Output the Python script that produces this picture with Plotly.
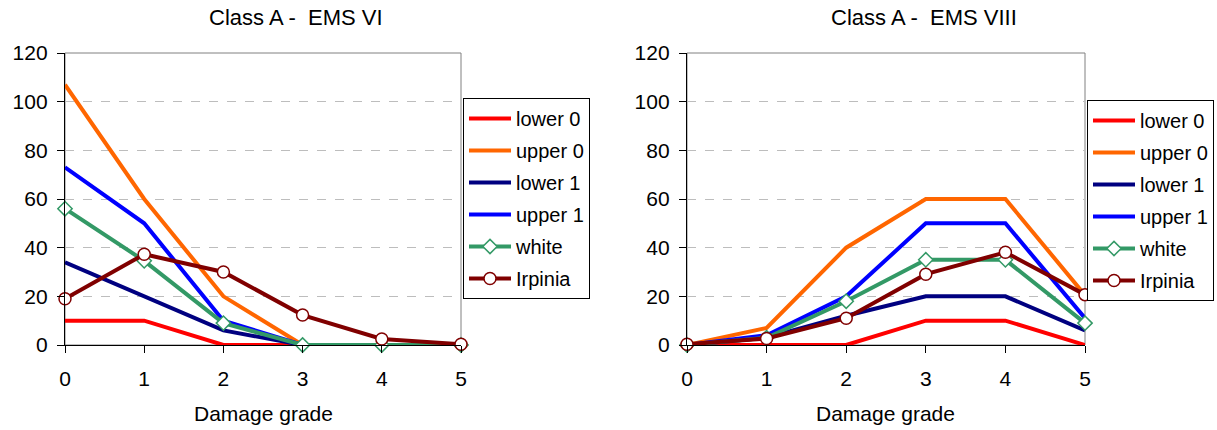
import plotly.graph_objects as go

# Damage grades on the x axis
grades = [0, 1, 2, 3, 4, 5]

# Class A - EMS VI
vi_lower0 = [10, 10, 0, 0, 0, 0]
vi_upper0 = [107, 60, 20, 0, 0, 0]
vi_lower1 = [34, 20, 6, 0, 0, 0]
vi_upper1 = [73, 50, 10, 0, 0, 0]
vi_white = [56, 34.6, 9, 0, 0, 0]
vi_irpinia = [19, 37.3, 30, 12.3, 2.5, 0.3]

# Class A - EMS VIII
viii_lower0 = [0, 0, 0, 10, 10, 0]
viii_upper0 = [0, 7, 40, 60, 60, 20.5]
viii_lower1 = [0, 3, 12, 20, 20, 6]
viii_upper1 = [0, 4, 20, 50, 50, 11]
viii_white = [0, 3, 18, 35, 35, 9]
viii_irpinia = [0.3, 2.7, 11, 29.1, 38.1, 20.7]

series_names = ["lower 0", "upper 0", "lower 1", "upper 1", "white", "Irpinia"]
series_colors = ["#FF0000", "#FF6600", "#000080", "#0000FF", "#339966", "#800000"]

FONT = "Arial, Liberation Sans, sans-serif"
W, H = 1217, 430

fig = go.Figure()


def add_panel(values, xa, ya, legend):
    for name, color, ys in zip(series_names, series_colors, values):
        kw = dict(mode="lines")
        if name == "white":
            kw = dict(mode="lines+markers",
                      marker=dict(symbol="diamond", size=11, color="white",
                                  line=dict(color=color, width=1.5)))
        elif name == "Irpinia":
            kw = dict(mode="lines+markers",
                      marker=dict(symbol="circle", size=12, color="white",
                                  line=dict(color=color, width=1.5)))
        fig.add_trace(go.Scatter(
            x=grades, y=ys, name=name, xaxis=xa, yaxis=ya, legend=legend,
            legendgroup=legend + name, line=dict(color=color, width=4),
            cliponaxis=False, **kw))


add_panel([vi_lower0, vi_upper0, vi_lower1, vi_upper1, vi_white, vi_irpinia],
          "x", "y", "legend")
add_panel([viii_lower0, viii_upper0, viii_lower1, viii_upper1, viii_white, viii_irpinia],
          "x2", "y2", "legend2")

ydom = [1 - 345 / H, 1 - 53 / H]
axis_common = dict(showline=True, linecolor="#000000", linewidth=1.3,
                   ticks="outside", ticklen=7, tickcolor="#000000",
                   tickfont=dict(family=FONT, size=21, color="#000000"),
                   zeroline=False, automargin=False)

xcommon = dict(range=[0, 5], tickvals=grades, showgrid=False,
               ticklabelstandoff=8, **axis_common)
ycommon = dict(range=[0, 120], tickvals=[0, 20, 40, 60, 80, 100, 120],
               showgrid=True, gridcolor="#BDBDBD", griddash="dash", gridwidth=1,
               ticklabelstandoff=5, **axis_common)

legend_common = dict(bgcolor="white", bordercolor="#000000", borderwidth=1,
                     font=dict(family=FONT, size=20, color="#000000"),
                     tracegroupgap=3, itemwidth=42, xanchor="left", yanchor="top",
                     xref="paper", yref="paper", itemclick=False)


def label(text, xpx, ypx, size):
    return dict(text=text, x=xpx / W, y=1 - ypx / H, xref="paper", yref="paper",
                showarrow=False, xanchor="center", yanchor="middle",
                font=dict(family=FONT, size=size, color="#000000"))


fig.update_layout(
    template="none",
    width=W, height=H,
    margin=dict(l=0, r=0, t=0, b=0, autoexpand=False),
    paper_bgcolor="white", plot_bgcolor="white",
    showlegend=True,
    xaxis=dict(domain=[65 / W, 461 / W], anchor="y", **xcommon),
    yaxis=dict(domain=ydom, anchor="x", **ycommon),
    xaxis2=dict(domain=[687 / W, 1085 / W], anchor="y2", **xcommon),
    yaxis2=dict(domain=ydom, anchor="x2", **ycommon),
    legend=dict(x=463 / W, y=1 - 98 / H, **legend_common),
    legend2=dict(x=1087 / W, y=1 - 100 / H, **legend_common),
    annotations=[
        label("Class A -  EMS VI", 296, 18, 22),
        label("Class A -  EMS VIII", 924, 18, 22),
        label("Damage grade", 263, 413, 21),
        label("Damage grade", 886, 413, 21),
    ],
    shapes=[
        dict(type="rect", xref="x domain", yref="y domain", x0=0, x1=1, y0=0, y1=1,
             line=dict(color="#808080", width=1), layer="below"),
        dict(type="rect", xref="x2 domain", yref="y2 domain", x0=0, x1=1, y0=0, y1=1,
             line=dict(color="#808080", width=1), layer="below"),
    ],
)

fig.write_html("out.html")
